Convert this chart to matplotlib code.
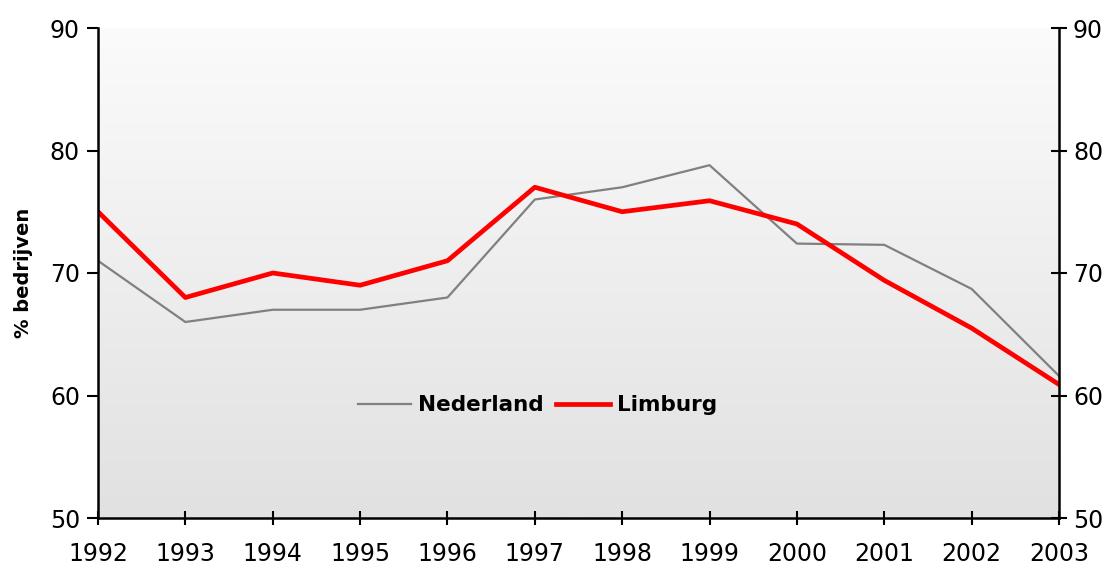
import numpy as np
import matplotlib
matplotlib.use("Agg")
import matplotlib.pyplot as plt
from matplotlib.colors import LinearSegmentedColormap

years = [1992, 1993, 1994, 1995, 1996, 1997, 1998, 1999, 2000, 2001, 2002, 2003]
nederland = [71.0, 66.0, 67.0, 67.0, 68.0, 76.0, 77.0, 78.8, 72.4, 72.3, 68.7, 61.6]
limburg = [75.0, 68.0, 70.0, 69.0, 71.0, 77.0, 75.0, 75.9, 74.0, 69.4, 65.5, 60.9]
yticks = [50, 60, 70, 80, 90]

plt.rcParams['font.family'] = ['DejaVu Sans']

fig = plt.figure(figsize=(11.1, 5.72), dpi=100)
ax = fig.add_axes([98/1110, 54/572, 961/1110, 490/572])

# gradient background
cmap = LinearSegmentedColormap.from_list('bg', ['#fbfbfb', '#e1e1e1'])
grad = np.linspace(0, 1, 256).reshape(-1, 1)
ax.imshow(grad, cmap=cmap, aspect='auto', extent=[0, 1, 0, 1],
          transform=ax.transAxes, zorder=0)

ax.plot(years, nederland, color='#808080', lw=1.6, label='Nederland', zorder=2)
ax.plot(years, limburg, color='#ff0000', lw=3.4, label='Limburg', zorder=3)

ax.set_xlim(years[0], years[-1])
ax.set_ylim(50, 90)
ax.set_xticks(years)
ax.set_yticks(yticks)
ax.tick_params(axis='x', direction='inout', length=10, width=1.5, labelsize=17, pad=12)
ax.tick_params(axis='y', direction='out', length=8, width=1.5, labelsize=17, pad=5)

for s in ['left', 'bottom', 'right']:
    ax.spines[s].set_linewidth(1.8)
    ax.spines[s].set_zorder(4)
ax.spines['top'].set_visible(False)

ax2 = ax.twinx()
ax2.set_ylim(50, 90)
ax2.set_yticks(yticks)
ax2.tick_params(axis='y', direction='inout', length=12, width=1.5, labelsize=17, pad=4)
for s in ax2.spines.values():
    s.set_visible(False)

ax.set_ylabel('% bedrijven', fontsize=14, fontweight='bold', labelpad=12)

leg = ax.legend(loc='center', bbox_to_anchor=(0.457, 0.23), ncol=2, frameon=False,
                handlelength=2.5, handletextpad=0.3, columnspacing=0.6,
                prop={'size': 15.5, 'weight': 'bold'})

fig.savefig('out.png', dpi=100)
